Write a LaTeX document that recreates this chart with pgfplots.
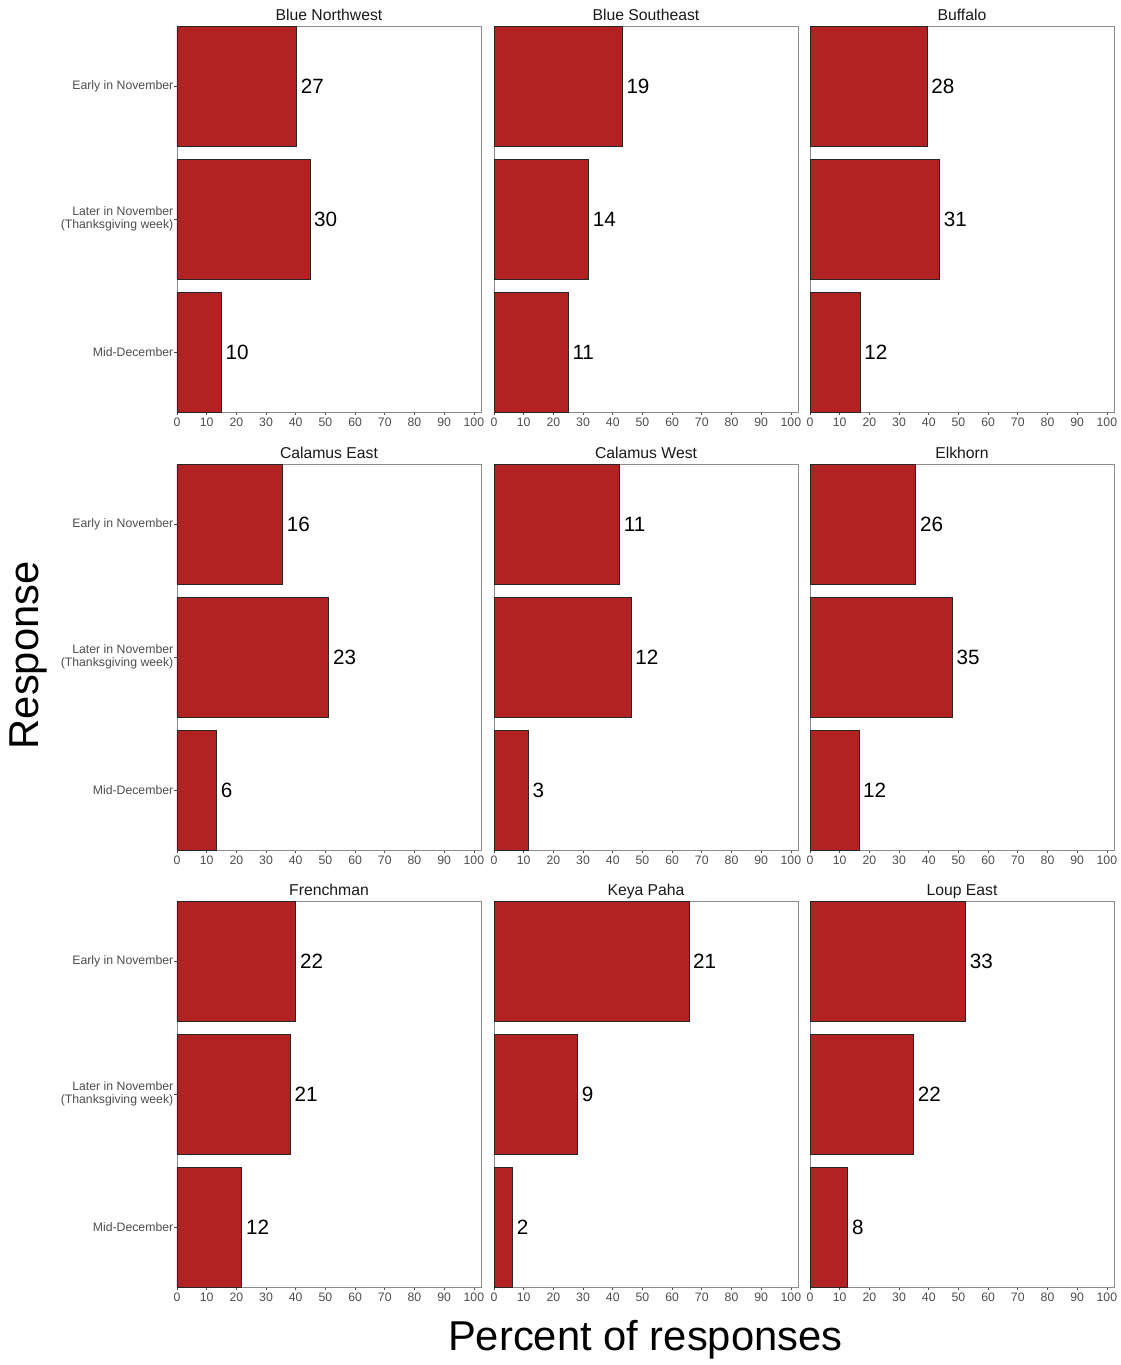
\documentclass[border=0pt]{standalone}
\usepackage{pgfplots}
\pgfplotsset{compat=1.18}
\usepackage{fontspec}
\setmainfont{Liberation Sans}
\definecolor{barred}{HTML}{B22222}
\definecolor{tickgrey}{HTML}{4D4D4D}
\definecolor{framegrey}{HTML}{8C8C8C}
\pgfplotsset{
  panel/.style={
    scale only axis, width=228pt, height=289.5pt, anchor=north west,
    xmin=0, xmax=102.4, ymin=0.55, ymax=3.45,
    xtick={0,10,...,100}, ytick=\empty,
    xtick pos=left, ytick pos=left, tick align=outside,
    major tick length=2pt,
    axis line style={draw=framegrey, line width=0.6pt},
    tick style={draw=tickgrey, line width=0.5pt},
    ticklabel style={font=\fontsize{9.2}{10}\selectfont, text=tickgrey},
    xticklabel style={inner sep=2.5pt},
    yticklabel style={align=right, inner sep=0.6pt},
    every axis title/.style={font=\fontsize{11.8}{12}\selectfont, at={(0.5,1)}, anchor=base, yshift=4pt, inner sep=0pt, text=black!90},
    /pgf/number format/assume math mode=true,
    xbar, bar width=0.9, clip=false,
    nodes near coords, nodes near coords align={horizontal},
    every node near coord/.append style={font=\fontsize{15.5}{16}\selectfont, text=black, anchor=west, inner sep=3pt},
  },
  firstcol/.style={ytick={1,2,3}, yticklabels={Mid-December,{Later in November\\(Thanksgiving week)},Early in November}},
  barstyle/.style={fill=barred, draw=black!85, line width=0.45pt},
}
\begin{document}
\begin{tikzpicture}
\path (0,0) rectangle (840.75pt,-1023.75pt);
% Row 1
\begin{axis}[panel, firstcol, at={(132.75pt,-19.5pt)}, title={Blue Northwest}]
\addplot[barstyle, point meta=explicit] table[x=p, y=y, meta=n]{
p y n
40.299 3 27
44.776 2 30
14.925 1 10
};
\end{axis}
\begin{axis}[panel, at={(370.5pt,-19.5pt)}, title={Blue Southeast}]
\addplot[barstyle, point meta=explicit] table[x=p, y=y, meta=n]{
p y n
43.182 3 19
31.818 2 14
25.000 1 11
};
\end{axis}
\begin{axis}[panel, at={(607.5pt,-19.5pt)}, title={Buffalo}]
\addplot[barstyle, point meta=explicit] table[x=p, y=y, meta=n]{
p y n
39.437 3 28
43.662 2 31
16.901 1 12
};
\end{axis}
% Row 2
\begin{axis}[panel, firstcol, at={(132.75pt,-348pt)}, title={Calamus East}]
\addplot[barstyle, point meta=explicit] table[x=p, y=y, meta=n]{
p y n
35.556 3 16
51.111 2 23
13.333 1 6
};
\end{axis}
\begin{axis}[panel, at={(370.5pt,-348pt)}, title={Calamus West}]
\addplot[barstyle, point meta=explicit] table[x=p, y=y, meta=n]{
p y n
42.308 3 11
46.154 2 12
11.538 1 3
};
\end{axis}
\begin{axis}[panel, at={(607.5pt,-348pt)}, title={Elkhorn}]
\addplot[barstyle, point meta=explicit] table[x=p, y=y, meta=n]{
p y n
35.616 3 26
47.945 2 35
16.438 1 12
};
\end{axis}
% Row 3
\begin{axis}[panel, firstcol, at={(132.75pt,-675.75pt)}, title={Frenchman}]
\addplot[barstyle, point meta=explicit] table[x=p, y=y, meta=n]{
p y n
40.000 3 22
38.182 2 21
21.818 1 12
};
\end{axis}
\begin{axis}[panel, at={(370.5pt,-675.75pt)}, title={Keya Paha}]
\addplot[barstyle, point meta=explicit] table[x=p, y=y, meta=n]{
p y n
65.625 3 21
28.125 2 9
6.250 1 2
};
\end{axis}
\begin{axis}[panel, at={(607.5pt,-675.75pt)}, title={Loup East}]
\addplot[barstyle, point meta=explicit] table[x=p, y=y, meta=n]{
p y n
52.381 3 33
34.921 2 22
12.698 1 8
};
\end{axis}
\node[rotate=90, font=\fontsize{31.3}{34}\selectfont] at (21pt,-491.5pt) {Response};
\node[font=\fontsize{31.3}{34}\selectfont] at (484pt,-1005pt) {Percent of responses};
\end{tikzpicture}
\end{document}
